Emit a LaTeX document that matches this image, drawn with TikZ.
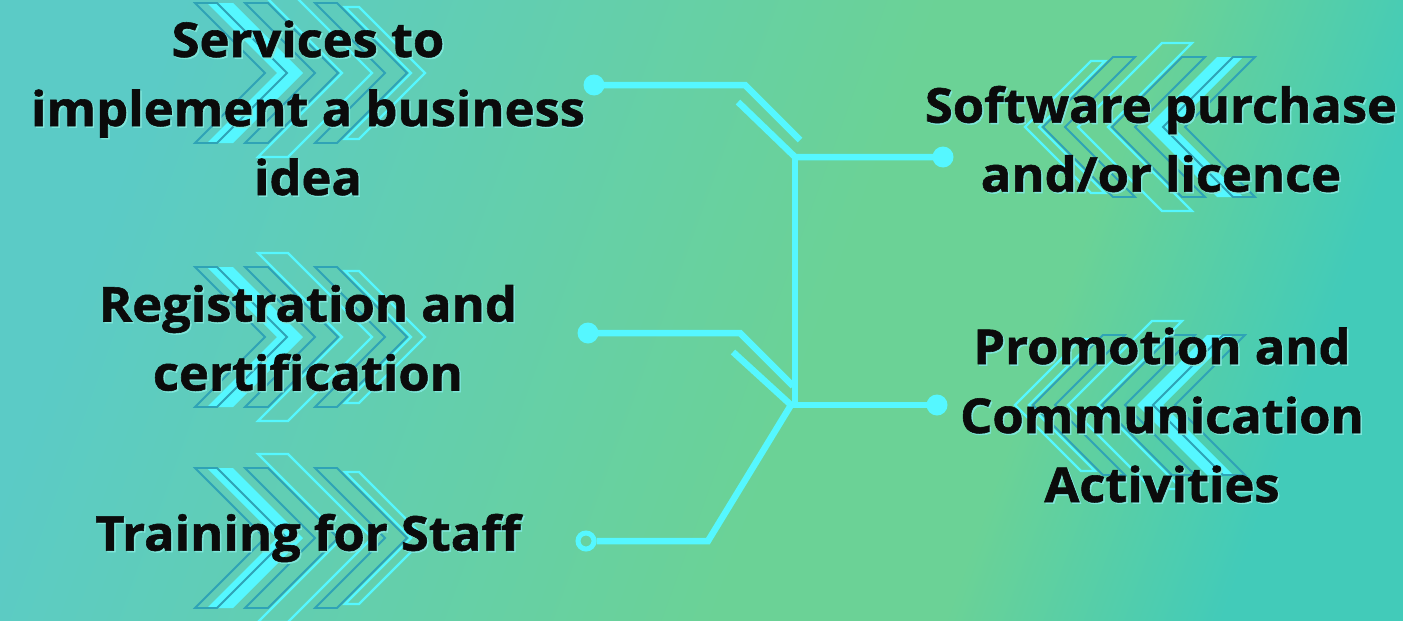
\documentclass[tikz,border=0pt]{standalone}
\usepackage{fontspec}
\setmainfont{Open Sans}[BoldFeatures={FakeStretch=1.055,FakeBold=1.2}]
\definecolor{bgA}{HTML}{5BCBC6}
\definecolor{bgB}{HTML}{6BD296}
\definecolor{bgC}{HTML}{42CBB9}
\definecolor{cyanl}{HTML}{55F7FF}
\definecolor{darkt}{HTML}{2FA3B6}
\definecolor{txt}{HTML}{0B0B0B}
\definecolor{glow}{HTML}{7EE6DA}
\pgfdeclarehorizontalshading{bgshade}{100bp}{color(0bp)=(bgA); color(25bp)=(bgA); color(55bp)=(bgB); color(64bp)=(bgB); color(75bp)=(bgC); color(100bp)=(bgC)}
\tikzset{
  wire/.style={draw=cyanl, line width=6.5pt},
  dotn/.style={circle, fill=cyanl, inner sep=0pt, minimum size=21pt},
  odot/.style={circle, draw=cyanl, line width=5pt, fill=none, inner sep=0pt, minimum size=16pt},
  chfill/.style={fill=cyanl},
  chdark/.style={draw=darkt, line width=1.8pt},
  chcyan/.style={draw=cyanl, line width=2.2pt},
  lbl/.style={text=txt, align=center, font=\fontsize{48}{69}\selectfont\bfseries, inner sep=0pt},
  lblglow/.style={lbl, text=glow}
}
% #1 tip x, #2 cy, #3 half height, #4 band width, #5 dir, #6 style
\newcommand\chev[6]{%
  \path[#6] ({#1-#5*(#3+#4)},{#2-#3}) -- ({#1-#5*#3},{#2-#3}) -- (#1,#2) -- ({#1-#5*#3},{#2+#3}) -- ({#1-#5*(#3+#4)},{#2+#3}) -- ({#1-#5*#4},#2) -- cycle;}
% #1 offset S, #2 dir, #3 cy
\newcommand\chevset[3]{%
  \chev{#1+#2*303}{#3}{70}{26}{#2}{chfill}
  \chev{#1+#2*287}{#3}{70}{22}{#2}{chdark}
  \chev{#1+#2*338}{#3}{70}{23}{#2}{chdark}
  \chev{#1+#2*372}{#3}{84}{30}{#2}{chcyan}
  \chev{#1+#2*407}{#3}{70}{22}{#2}{chdark}
  \chev{#1+#2*425}{#3}{66}{14}{#2}{chcyan}
}
\begin{document}
\begin{tikzpicture}[x=1pt,y=-1pt]
\useasboundingbox (0,0) rectangle (1403,621);
\shade[shading=bgshade, shading angle=-20] (0,0) rectangle (1403,621);
\begin{scope}
\clip (0,0) rectangle (1403,621);
\chevset{0}{1}{73}
\chevset{0}{1}{337}
\chevset{0}{1}{538}
\chevset{1450}{-1}{127}
\chevset{1440}{-1}{405}
\end{scope}
% circuit
\node[dotn] (d1) at (594,85) {};
\node[dotn] (d2) at (588,333) {};
\node[odot] (d3) at (586,541) {};
\node[dotn] (r1) at (943,157) {};
\node[dotn] (r2) at (937,405) {};
\coordinate (c1) at (745,85);
\coordinate (e1) at (800,140);
\coordinate (s1) at (738,102);
\coordinate (j1) at (795,157);
\coordinate (c2) at (740,333);
\coordinate (e2) at (793,386);
\coordinate (s2) at (733,352);
\coordinate (j2) at (791,405);
\coordinate (v2) at (795,405);
\coordinate (c3) at (708,541);
\draw[wire, line join=miter] (d1.center) -- (c1) -- (e1);
\draw[wire, line join=miter] (s1) -- (j1) -- (r1.center);
\draw[wire] (j1) -- (v2);
\draw[wire, line join=miter] (d2.center) -- (c2) -- (e2);
\draw[wire] (s2) -- (j2);
\draw[wire] (j2) -- (r2.center);
\draw[wire, line join=miter] (j2) -- (c3) -- (d3);
% labels (glow copies behind)
\node[lblglow] (t1g) at (309.5,109.5) {Services to\\implement a business\\idea};
\node[lblglow] (t2g) at (309.5,339.5) {Registration and\\certification};
\node[lblglow] (t3g) at (309.5,539.5) {Training for Staff};
\node[lblglow] (t4g) at (1162.5,140.5) {Software purchase\\and/or licence};
\node[lblglow] (t5g) at (1163.5,416.5) {Promotion and\\Communication\\Activities};
\node[lbl] (t1) at (308,108) {Services to\\implement a business\\idea};
\node[lbl] (t2) at (308,338) {Registration and\\certification};
\node[lbl] (t3) at (308,538) {Training for Staff};
\node[lbl] (t4) at (1161,139) {Software purchase\\and/or licence};
\node[lbl] (t5) at (1162,415) {Promotion and\\Communication\\Activities};
\end{tikzpicture}
\end{document}
